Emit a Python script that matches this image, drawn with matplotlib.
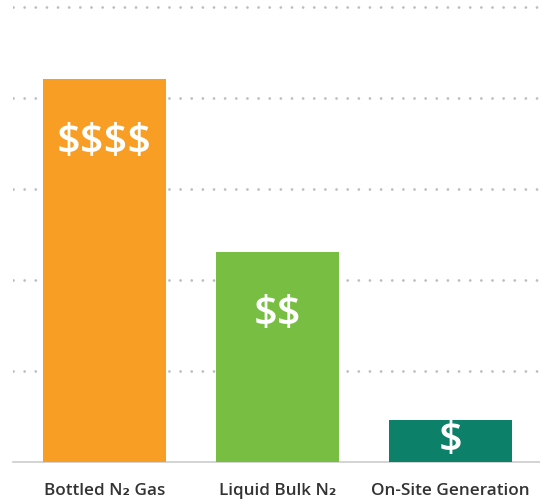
import matplotlib
matplotlib.use("Agg")
import matplotlib.pyplot as plt

categories = ["Bottled N\u2082 Gas", "Liquid Bulk N\u2082", "On-Site Generation"]
values = [4.21, 2.31, 0.46]
bar_labels = ["$$$$", "$$", "$"]
colors = ["#F99E25", "#78BE43", "#0D806A"]
grid_levels = [1, 2, 3, 4, 5]

plt.rcParams['font.family'] = ['Open Sans', 'DejaVu Sans']

fig = plt.figure(figsize=(5.4, 5.0), dpi=100)
ax = fig.add_axes([13/540, 38/500, 1 - 13/540, 462/500])

for g in grid_levels:
    ax.axhline(g, color="#bdbdbd", linewidth=2.0, linestyle=(0, (0.01, 4.0)),
               dash_capstyle='round', zorder=0)

x = list(range(len(categories)))
ax.bar(x, values, width=0.711, color=colors, zorder=2)

for xi, v, lab in zip(x, values, bar_labels):
    y = max(v / 2, v - 0.7)
    ax.text(xi, y, lab, color="white", fontsize=30, fontweight="semibold",
            ha="center", va="center", zorder=3, parse_math=False)

ax.set_xlim(-0.529, 2.517)
ax.set_ylim(0, 462/91)
ax.set_xticks(x)
ax.set_xticklabels(categories, fontsize=12.3, fontweight="semibold", color="#333333")
ax.tick_params(axis='x', length=0, pad=15)
ax.set_yticks([])
for s in ["top", "right", "left"]:
    ax.spines[s].set_visible(False)
ax.spines["bottom"].set_color("#cccccc")
ax.spines["bottom"].set_linewidth(1.2)
ax.spines["bottom"].set_zorder(1)

fig.savefig("out.png", dpi=100)
